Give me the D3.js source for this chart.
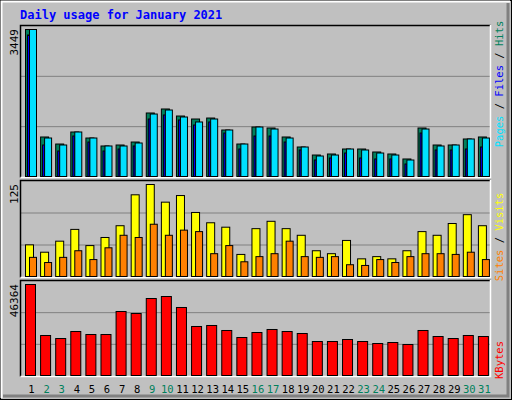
<!DOCTYPE html>
<html><head><meta charset="utf-8">
<script src="https://cdn.jsdelivr.net/npm/d3@7"></script>
<style>body{margin:0;background:#fff}text{font-family:"DejaVu Sans Mono",monospace}</style>
</head><body><div id="chart"></div>
<script>
let days = d3.range(1, 32);
let weekend = [2, 3, 9, 10, 16, 17, 23, 24, 30, 31];
let hits = [3449,927,762,1044,903,716,739,809,1490,1584,1419,1349,1372,1091,762,1161,1138,927,692,504,528,645,645,575,528,411,1138,739,739,880,927];
let files = [3320,739,598,950,809,598,645,716,1349,1443,1326,1208,1279,1020,645,950,950,809,622,387,434,551,434,411,411,293,1020,622,622,645,692];
let pages = [3449,903,739,1044,903,716,716,786,1466,1560,1396,1279,1349,1091,762,1161,1114,903,692,481,504,645,622,551,504,387,1114,716,739,880,903];
let visits = [43,33,48,64,42,53,69,111,125,101,110,87,73,67,30,65,75,65,56,35,31,49,24,27,24,35,61,56,72,84,69];
let sites = [26,19,26,35,23,39,56,53,71,56,63,61,31,42,20,27,31,48,27,26,27,16,15,23,19,27,31,31,30,33,23];
let kbytes = [46364,20380,18850,22418,20890,20890,32610,31590,39230,40250,34650,24970,25480,22930,19360,21910,23440,22418,21400,17320,17320,18340,17320,16300,16810,15790,22930,19870,18850,20380,19870];

let svg = d3.select("#chart").append("svg").attr("width", 512).attr("height", 400);
svg.append("rect").attr("width", 512).attr("height", 400).attr("fill", "#c0c0c0");
// frame
svg.append("rect").attr("x", 0.5).attr("y", 0.5).attr("width", 511).attr("height", 399).attr("fill", "none").attr("stroke", "#000");
svg.append("path").attr("d", "M1.5,398V1.5H510").attr("fill", "none").attr("stroke", "#fff").attr("stroke-width", 2);
svg.append("path").attr("d", "M3,396H508V3").attr("fill", "none").attr("stroke", "#808080").attr("stroke-width", 3);

svg.append("text").attr("x", 20).attr("y", 19).attr("fill", "#0000ff").attr("font-weight", "bold").attr("font-size", 12).text("Daily usage for January 2021");

let x = d3.scaleBand().domain(days).range([22, 490]).paddingInner(0);

function panel(top, bottom, max, label) {
	let y = d3.scaleLinear().domain([0, max]).range([bottom, top + 4]);
	let g = svg.append("g");
	let h = bottom - top;
	[1, 2].forEach(i => g.append("line").attr("x1", 21).attr("x2", 490).attr("y1", bottom - h * i / 3 + 1).attr("y2", bottom - h * i / 3 + 1).attr("stroke", "#808080").attr("stroke-width", 1));
	g.append("path").attr("d", `M20.5,${bottom + 1.5}V${top + 0.5}H490.5`).attr("fill", "none").attr("stroke", "#000").attr("stroke-width", 1.5);
	g.append("path").attr("d", `M490.5,${top}V${bottom + 1.5}H20.5`).attr("fill", "none").attr("stroke", "#fff").attr("stroke-width", 1.5);
	svg.append("text").attr("transform", `translate(18,${top + 4}) rotate(-90)`).attr("text-anchor", "end").attr("font-size", 11).attr("fill", "#000").text(label);
	return y;
}

function bars(vals, y, dx, w, color) {
	svg.append("g").selectAll("rect").data(vals).enter().append("rect")
		.attr("x", (d, i) => x(days[i]) + dx + 0.5)
		.attr("y", d => y(d) + 0.5)
		.attr("width", w)
		.attr("height", d => y(0) - y(d))
		.attr("fill", color).attr("stroke", "#000").attr("stroke-width", 1);
}

let y1 = panel(25, 176, 3449, "3449");
bars(hits, y1, 3, 8, "#00805c");
bars(files, y1, 5, 2, "#0000ff");
bars(pages, y1, 7, 7, "#00e0ff");

let y2 = panel(180, 276, 125, "125");
bars(visits, y2, 3, 8, "#ffff00");
bars(sites, y2, 7, 7, "#ff8000");

let y3 = panel(280, 375, 46364, "46364");
bars(kbytes, y3, 3, 10, "#ff0000");

svg.append("g").selectAll("text").data(days).enter().append("text")
	.attr("x", d => x(d) + 9.5).attr("y", 393).attr("text-anchor", "middle").attr("font-size", 10.5)
	.attr("fill", d => weekend.includes(d) ? "#00805c" : "#000").text(d => d);

// side legends
function side(parts, cy) {
	let t = svg.append("text").attr("transform", `translate(503,${cy}) rotate(-90)`).attr("text-anchor", "middle").attr("font-size", 10.5);
	parts.forEach(p => t.append("tspan").attr("fill", p[1]).text(p[0]));
}
side([["Pages", "#00e0ff"], [" / ", "#000"], ["Files", "#0000ff"], [" / ", "#000"], ["Hits", "#00805c"]], 84);
side([["Sites", "#ff8000"], [" / ", "#000"], ["Visits", "#ffff00"]], 237);
side([["KBytes", "#ff0000"]], 360);
</script></body></html>
